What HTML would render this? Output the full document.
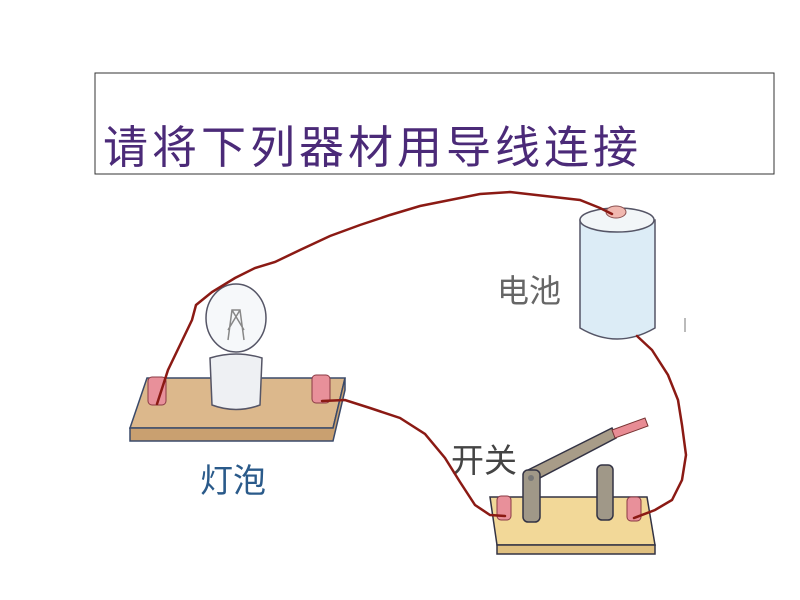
<!DOCTYPE html>
<html><head><meta charset="utf-8"><style>
html,body{margin:0;padding:0;background:#fff;width:800px;height:600px;overflow:hidden}
</style></head><body>
<svg width="800" height="600" xmlns="http://www.w3.org/2000/svg" style="display:block">
<rect x="95" y="73" width="679" height="101" fill="#fff" stroke="#333" stroke-width="1"/>
<text x="103" y="163" font-family="Liberation Sans, Noto Sans CJK SC, sans-serif" font-size="45" letter-spacing="4" fill="#4b2a78">请将下列器材用导线连接</text>

<!-- lamp board -->
<polygon points="147,378 345,378 333,428 130,428" fill="#dcb88c" stroke="#3a4a6a" stroke-width="1.5"/>
<polygon points="130,428 333,428 345,378 345,390 333,441 130,441" fill="#c9a070" stroke="#3a4a6a" stroke-width="1.5"/>
<!-- bulb -->
<ellipse cx="236" cy="318" rx="30" ry="34" fill="#f6f8fa" stroke="#556" stroke-width="1.5"/>
<path d="M228 340 L232 310 L240 310 L244 340 M232 310 L244 330 M240 310 L228 330" stroke="#888" fill="none" stroke-width="1.5"/>
<path d="M210 358 Q236 350 262 358 L260 405 Q236 414 212 405 Z" fill="#eef0f3" stroke="#556" stroke-width="1.5"/>
<!-- lamp posts -->
<rect x="148" y="377" width="18" height="28" rx="4" fill="#e8909a" stroke="#8a3a44"/>
<rect x="312" y="375" width="18" height="28" rx="4" fill="#e8909a" stroke="#8a3a44"/>
<text x="200" y="492" font-family="Liberation Sans, Noto Sans CJK SC, sans-serif" font-size="33" fill="#2a5a8a">灯泡</text>

<!-- battery -->
<path d="M580 220 L580 328 Q617 350 655 328 L655 220 Z" fill="#dcecf6" stroke="#556" stroke-width="1.5"/>
<ellipse cx="617" cy="220" rx="37" ry="12" fill="#f2f6f8" stroke="#556" stroke-width="1.5"/>
<ellipse cx="616" cy="212" rx="10" ry="6" fill="#f0b8b0" stroke="#8a5050"/>
<text x="497" y="302" font-family="Liberation Sans, Noto Sans CJK SC, sans-serif" font-size="32" fill="#666">电池</text>

<!-- switch -->
<polygon points="490,497 647,497 655,545 497,545" fill="#f2d898" stroke="#334" stroke-width="1.5"/>
<rect x="497" y="545" width="158" height="9" fill="#e0c080" stroke="#334" stroke-width="1.5"/>
<rect x="597" y="465" width="16" height="55" rx="5" fill="#a09888" stroke="#334" stroke-width="1.5"/>
<polygon points="528,470 612,428 616,438 532,482" fill="#a89c88" stroke="#334" stroke-width="1.5"/>
<polygon points="612,430 645,418 648,426 615,438" fill="#e88c94" stroke="#733" stroke-width="1"/>
<rect x="523" y="470" width="17" height="52" rx="5" fill="#a09888" stroke="#334" stroke-width="1.5"/>
<circle cx="531" cy="478" r="3" fill="#777"/>
<rect x="497" y="496" width="14" height="24" rx="4" fill="#e8909a" stroke="#8a3a44"/>
<rect x="627" y="497" width="14" height="24" rx="4" fill="#e8909a" stroke="#8a3a44"/>
<text x="451" y="472" font-family="Liberation Sans, Noto Sans CJK SC, sans-serif" font-size="33" fill="#444">开关</text>

<!-- wires -->
<g fill="none" stroke="#8b1a14" stroke-width="2.5" stroke-linecap="round">
<path d="M157 404 L168 370 L180 345 L192 320 L196 305 L212 292 L235 278 L255 268 L275 262 L300 250 L330 236 L360 225 L390 215 L420 206 L450 200 L480 194 L510 192 L545 196 L580 200 L600 208 L612 214"/>
<path d="M322 401 L345 400 L370 408 L400 418 L425 434 L445 458 L460 482 L475 505 L490 515 L505 516"/>
<path d="M637 336 L652 350 L668 375 L678 400 L682 425 L686 455 L682 480 L672 500 L655 510 L634 518"/>
</g>
<rect x="684" y="318" width="2" height="14" fill="#bbb"/>
</svg>
</body></html>
